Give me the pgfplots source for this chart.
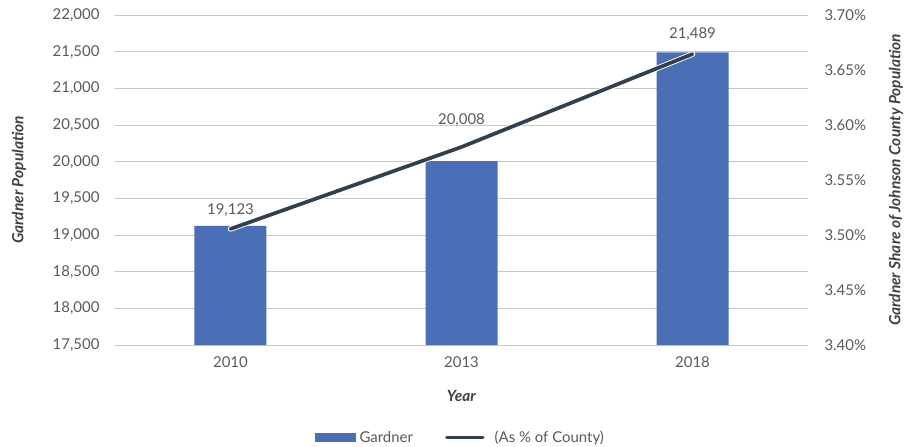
\documentclass[border=0pt]{standalone}
\usepackage{fontspec}
\setmainfont{Lato}
\usepackage{pgfplots}
\usepackage{pgfplotstable}
\pgfplotsset{compat=1.18}
\definecolor{barblue}{HTML}{4A6FB7}
\definecolor{linedark}{HTML}{323F4F}
\definecolor{txtgray}{HTML}{595959}
\definecolor{lblgray}{HTML}{404040}
\definecolor{gridgray}{HTML}{C8C8C8}
\pgfplotstableread{
x  pop    off
0  19123  6
1  20008  31
2  21489  8
}\bartable
\begin{document}
\begin{tikzpicture}
\useasboundingbox (-115bp,-102bp) rectangle (801bp,345bp);
\begin{axis}[
  at={(0,0)}, anchor=south west,
  scale only axis, width=693bp, height=330bp,
  xmin=-0.5, xmax=2.5,
  xtick={0,1,2}, xticklabels={2010,2013,2018},
  ymin=17500, ymax=22000, ytick distance=500,
  axis y line*=left, axis x line*=bottom,
  ymajorgrids, grid style={gridgray, line width=0.8bp},
  y axis line style={draw=none},
  x axis line style={gridgray, line width=1bp},
  major tick length=0pt,
  tick label style={font=\fontsize{15}{17}\selectfont, text=txtgray},
  /pgf/number format/assume math mode=true,
  /pgf/number format/1000 sep={,},
  scaled y ticks=false,
  xlabel={\textbf{\textit{Year}}},
  xlabel style={font=\fontsize{15.5}{17}\selectfont, text=lblgray, yshift=-16bp},
  ylabel={\textbf{\textit{Gardner Population}}},
  ylabel style={font=\fontsize{15.5}{17}\selectfont, text=lblgray, yshift=20bp},
  yticklabel style={xshift=-12bp},
  xticklabel style={yshift=-8bp},
]
\addplot[ybar, bar width=72bp, fill=barblue, draw=none,
  visualization depends on={\thisrow{off} \as \off},
  nodes near coords, nodes near coords style={font=\fontsize{15}{17}\selectfont, text=txtgray, yshift=\off bp, /pgf/number format/1000 sep={,}}]
  table[x=x, y=pop] {\bartable};
\end{axis}
\begin{axis}[
  at={(0,0)}, anchor=south west,
  scale only axis, width=693bp, height=330bp,
  xmin=-0.5, xmax=2.5,
  ymin=3.40, ymax=3.70, ytick distance=0.05,
  axis y line*=right, axis x line=none,
  y axis line style={draw=none},
  major tick length=0pt,
  tick label style={font=\fontsize{15}{17}\selectfont, text=txtgray},
  /pgf/number format/assume math mode=true,
  yticklabel={\pgfmathprintnumber[fixed,fixed zerofill,precision=2]{\tick}\%},
  yticklabel style={xshift=13bp},
  ylabel={\textbf{\textit{Gardner Share of Johnson County Population}}},
  ylabel style={font=\fontsize{15.5}{17}\selectfont, text=lblgray, yshift=-16bp},
  legend style={at={(0.5,-0.28)}, anchor=center, draw=none, legend columns=2,
    font=\fontsize{15}{17}\selectfont, text=txtgray,
    nodes={inner xsep=4bp},
    /tikz/every even column/.append style={column sep=26bp}},
  legend image code/.code={\draw[#1] (2bp,0bp) -- (38bp,0bp); \path (0bp,0bp) (44bp,0bp);},
]
\addlegendimage{legend image code/.code={\fill[barblue] (0bp,-4bp) rectangle (40bp,4bp);}}
\addlegendentry{Gardner}
\addplot[white, line width=5.5bp, line cap=round, forget plot] coordinates {(0,3.5055) (1,3.580) (2,3.6645)};
\addplot[linedark, line width=3.7bp, line cap=round] coordinates {(0,3.5055) (1,3.580) (2,3.6645)};
\addlegendentry{(As \% of County)}
\end{axis}
\end{tikzpicture}
\end{document}
